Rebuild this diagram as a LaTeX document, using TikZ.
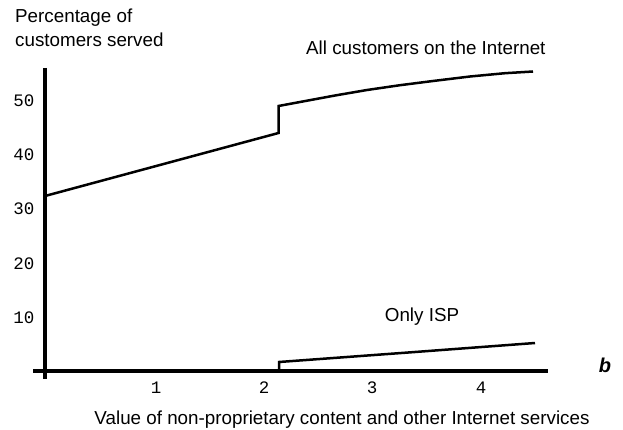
\documentclass[tikz,border=0pt]{standalone}
\usepackage{fontspec}
\setmainfont{Liberation Sans}
\newfontfamily\tickfont{Liberation Mono}
\begin{document}
\begin{tikzpicture}[x=1pt,y=-1pt,
    axisline/.style={line width=3.4pt},
    curveline/.style={line width=2.5pt, line join=miter},
    lbl/.style={font=\fontsize{18.8}{21}\selectfont, inner sep=0pt},
    ticklbl/.style={font=\tickfont\fontsize{17.5}{19}\selectfont, inner sep=0pt}]
  \useasboundingbox (0,0) rectangle (623,430);

  % axes
  \coordinate (ytop) at (45,68);
  \coordinate (ybot) at (45,379);
  \coordinate (xleft) at (33,371);
  \coordinate (xright) at (548,371);
  \draw[axisline] (ytop) -- (ybot);
  \draw[axisline] (xleft) -- (xright);

  % tick labels
  \node[ticklbl] (y50) at (24,101) {50};
  \node[ticklbl] (y40) at (24,155) {40};
  \node[ticklbl] (y30) at (24,209) {30};
  \node[ticklbl] (y20) at (24,264) {20};
  \node[ticklbl] (y10) at (24,318) {10};
  \node[ticklbl] (x1) at (156,388) {1};
  \node[ticklbl] (x2) at (264,388) {2};
  \node[ticklbl] (x3) at (372,388) {3};
  \node[ticklbl] (x4) at (481,388) {4};

  % axis titles
  \node[lbl, anchor=west] (ytitle1) at (15,18) {Percentage of};
  \node[lbl, anchor=west] (ytitle2) at (15,40) {customers served};
  \node[lbl] (xtitle) at (342,420) {Value of non-proprietary content and other Internet services};
  \node[lbl, font=\fontsize{20}{22}\selectfont\bfseries\itshape] (bvar) at (605,365) {b};

  % all customers on the Internet
  \coordinate (a0) at (45,196);
  \coordinate (a1) at (278.5,133);
  \coordinate (a2) at (278.5,106);
  \draw[curveline] (a0) -- (a1) -- (a2) -- (300,102) -- (335,95.5) -- (367,90)
    -- (400,85.2) -- (433,81) -- (470,76.5) -- (505,73.2) -- (533,71.5);
  \node[lbl, anchor=west] (alllbl) at (306,48) {All customers on the Internet};

  % only ISP
  \coordinate (i0) at (279,370);
  \coordinate (i1) at (279,362);
  \coordinate (i2) at (415,352);
  \coordinate (i3) at (535,343);
  \draw[curveline] (i0) -- (i1) -- (i2) -- (i3);
  \node[lbl] (isplbl) at (422,317) {Only ISP};
\end{tikzpicture}
\end{document}
